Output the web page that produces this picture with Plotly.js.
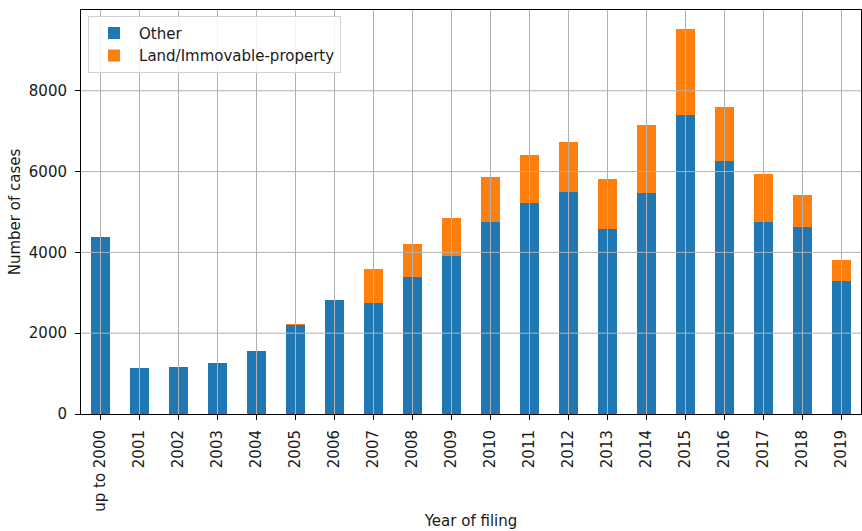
<!DOCTYPE html>
<html>
<head>
<meta charset="utf-8">
<script src="https://cdn.plot.ly/plotly-3.0.1.min.js"></script>
<style>html,body{margin:0;padding:0;background:#fff;}#chart{width:862px;height:531px;}</style>
</head>
<body>
<div id="chart"></div>
<script>
const categories = ["up to 2000","2001","2002","2003","2004","2005","2006","2007","2008","2009","2010","2011","2012","2013","2014","2015","2016","2017","2018","2019"];
const otherCases = [4380,1135,1155,1265,1570,2195,2828,2746,3380,3922,4744,5213,5484,4579,5460,7392,6274,4744,4629,3289];
const landCases = [0,0,0,0,0,33,0,847,838,929,1118,1201,1251,1226,1685,2131,1332,1201,798,518];
const yTicks = [0,2000,4000,6000,8000];

const gridColor = '#b0b0b0';
const shapes = [];
categories.forEach((c, i) => shapes.push({type:'line', xref:'x', yref:'paper', x0:i, x1:i, y0:0, y1:1, layer:'above', line:{color:gridColor, width:1}}));
yTicks.slice(1).forEach(v => shapes.push({type:'line', xref:'paper', yref:'y', x0:0, x1:1, y0:v, y1:v, layer:'above', line:{color:gridColor, width:1}}));

const traces = [
  {type:'bar', name:'Other', x:categories, y:otherCases, width:0.5, marker:{color:'#1f77b4', line:{width:0}}},
  {type:'bar', name:'Land/Immovable-property', x:categories, y:landCases, width:0.5, marker:{color:'#ff7f0e', line:{width:0}}}
];

const layout = {
  width:862, height:531,
  margin:{l:81, r:1, t:10, b:117},
  barmode:'stack',
  paper_bgcolor:'#fff', plot_bgcolor:'#fff',
  font:{family:'DejaVu Sans', size:15, color:'#1a1a1a'},
  showlegend:true,
  legend:{x:0.009, y:0.986, xanchor:'left', yanchor:'top', traceorder:'normal', bgcolor:'rgba(255,255,255,0.85)', bordercolor:'#d0d0d0', borderwidth:1, font:{size:15}, itemwidth:40},
  xaxis:{type:'category', range:[-0.5,19.5], tickangle:-90, showgrid:false, showline:true, mirror:true, linecolor:'#000', linewidth:1, ticks:'outside', ticklen:5, tickcolor:'#000', zeroline:false, ticklabelstandoff:4,
    title:{text:'Year of filing', standoff:4, font:{size:15}}, automargin:false},
  yaxis:{range:[0,9999], tickvals:yTicks, showgrid:false, showline:true, mirror:true, linecolor:'#000', linewidth:1, ticks:'outside', ticklen:5, tickcolor:'#000', zeroline:false, ticklabelstandoff:5,
    title:{text:'Number of cases', standoff:4, font:{size:15}}, automargin:false},
  shapes:shapes
};

Plotly.newPlot('chart', traces, layout, {displayModeBar:false, staticPlot:true});
</script>
</body>
</html>
